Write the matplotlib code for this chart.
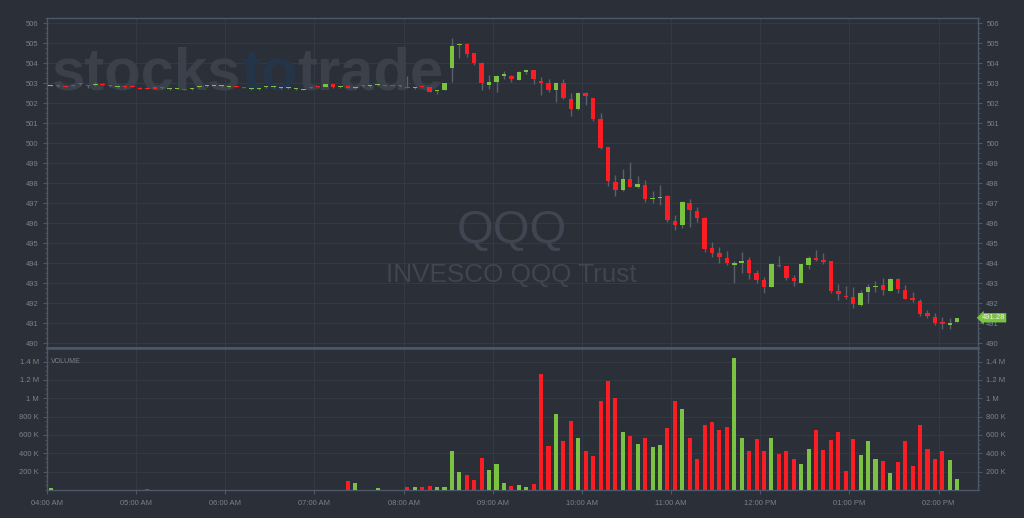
import matplotlib.pyplot as plt
import numpy as np
import matplotlib.transforms as mtransforms
from matplotlib.ticker import FuncFormatter, MultipleLocator, FixedLocator

# 5-minute bars, pre-market 04:00 - 08:25
pre_open = [502.86, 502.90, 502.85, 502.92, 502.99, 502.89, 502.90, 502.97, 502.89, 502.80,
            502.84, 502.85, 502.77, 502.78, 502.80, 502.79, 502.70, 502.73, 502.72, 502.71,
            502.80, 502.85, 502.88, 502.85, 502.80, 502.87, 502.82, 502.71, 502.71, 502.80,
            502.81, 502.76, 502.76, 502.70, 502.68, 502.82, 502.84, 502.83, 502.97, 502.81,
            502.88, 502.76, 502.89, 502.85, 502.90, 502.92, 502.90, 502.89, 502.82, 502.76,
            502.85, 502.80, 502.60, 502.67]
pre_high = [502.91, 502.93, 502.88, 502.95, 503.01, 502.92, 503.08, 503.00, 502.92, 502.85,
            502.86, 502.87, 502.80, 502.80, 502.82, 502.81, 502.75, 502.78, 502.74, 502.76,
            502.85, 502.90, 502.93, 502.90, 502.85, 502.89, 502.84, 502.76, 502.76, 502.85,
            502.86, 502.81, 502.81, 502.75, 502.73, 502.84, 502.86, 502.99, 502.99, 502.86,
            502.90, 502.81, 502.91, 502.90, 502.95, 502.94, 502.92, 502.91, 503.37, 502.81,
            502.87, 502.82, 502.65, 503.04]
pre_low = [502.85, 502.84, 502.80, 502.87, 502.94, 502.78, 502.88, 502.92, 502.84, 502.78,
           502.79, 502.80, 502.72, 502.72, 502.74, 502.74, 502.68, 502.71, 502.66, 502.69,
           502.78, 502.83, 502.86, 502.83, 502.78, 502.82, 502.77, 502.69, 502.69, 502.78,
           502.79, 502.74, 502.74, 502.68, 502.66, 502.77, 502.79, 502.81, 502.78, 502.79,
           502.76, 502.74, 502.84, 502.83, 502.88, 502.87, 502.85, 502.84, 502.77, 502.74,
           502.80, 502.55, 502.47, 502.65]
pre_close = [502.90, 502.86, 502.81, 502.88, 502.95, 502.85, 502.94, 502.93, 502.85, 502.84,
             502.80, 502.81, 502.73, 502.73, 502.74, 502.75, 502.74, 502.77, 502.68, 502.75,
             502.84, 502.89, 502.92, 502.89, 502.84, 502.83, 502.78, 502.75, 502.75, 502.84,
             502.85, 502.80, 502.80, 502.74, 502.72, 502.78, 502.80, 502.97, 502.80, 502.85,
             502.78, 502.80, 502.85, 502.89, 502.94, 502.88, 502.86, 502.85, 502.78, 502.80,
             502.81, 502.57, 502.63, 503.02]
pre_volume = [18e3, 0, 0, 0, 0, 0, 0, 0, 0, 0,
              0, 0, 0, 15e3, 0, 0, 0, 0, 0, 0,
              0, 0, 0, 0, 0, 0, 0, 0, 0, 0,
              0, 0, 0, 0, 0, 0, 0, 0, 0, 0,
              96e3, 74e3, 0, 0, 18e3, 0, 0, 0, 30e3, 33e3,
              30e3, 44e3, 33e3, 33e3]

# 5-minute bars 08:30 - 02:10 PM
day_open = [503.78, 504.90, 504.98, 504.50, 504.02, 502.93,
            503.05, 503.38, 503.38, 503.17, 503.57, 503.65, 503.12, 503.00, 502.65, 503.02, 502.22, 501.72,
            502.53, 502.25, 501.20, 499.80, 498.05, 497.67, 498.22, 497.80, 497.92, 497.20, 497.26, 497.37,
            496.12, 495.92, 497.00, 496.62, 496.28, 494.75, 494.50, 494.28, 493.93, 494.02, 494.17, 493.53,
            493.17, 492.83, 493.93, 493.85, 493.25, 493.03, 493.93, 494.25, 494.17, 494.10, 492.62, 492.36,
            492.34, 491.91, 492.56, 492.80, 492.92, 492.62, 493.23, 492.67, 492.27, 492.12, 491.50, 491.32,
            491.05, 490.90, 491.07]
day_high = [505.25, 505.00, 505.00, 504.52, 504.05, 503.42,
            503.40, 503.60, 503.40, 503.60, 503.68, 503.67, 503.32, 503.20, 503.05, 503.20, 502.50, 502.55,
            502.55, 502.27, 501.50, 499.82, 498.42, 498.72, 499.08, 498.38, 498.17, 497.62, 497.92, 497.40,
            496.42, 497.10, 497.20, 496.80, 496.30, 495.07, 494.80, 494.62, 494.13, 494.55, 494.33, 493.67,
            493.30, 494.00, 494.37, 493.87, 493.42, 493.98, 494.37, 494.67, 494.53, 494.12, 492.95, 492.86,
            492.80, 492.66, 492.99, 493.12, 493.29, 493.25, 493.28, 492.92, 492.58, 492.20, 491.68, 491.53,
            491.32, 491.28, 491.28]
day_low = [503.08, 504.25, 504.33, 503.93, 502.67, 502.72,
           502.58, 503.20, 503.07, 503.15, 503.48, 502.97, 502.43, 502.55, 502.08, 502.20, 501.37, 501.68,
           501.93, 501.10, 499.70, 497.87, 497.37, 497.62, 497.80, 497.78, 497.08, 497.03, 496.92, 496.05,
           495.67, 495.78, 495.83, 496.08, 494.55, 494.30, 494.00, 493.90, 493.03, 493.53, 493.22, 493.00,
           492.53, 492.80, 493.83, 493.17, 492.88, 493.00, 493.70, 494.13, 493.97, 492.53, 492.17, 492.22,
           491.77, 491.87, 492.00, 492.55, 492.40, 492.60, 492.50, 492.20, 492.08, 491.37, 491.25, 490.92,
           490.70, 490.73, 491.05]
day_close = [504.87, 504.97, 504.47, 504.00, 503.00, 503.07,
             503.37, 503.45, 503.23, 503.57, 503.67, 503.22, 503.02, 502.65, 503.02, 502.28, 501.70, 502.50,
             502.37, 501.22, 499.75, 498.12, 497.67, 498.22, 497.83, 497.97, 497.20, 497.23, 497.29, 496.17,
             495.92, 497.05, 496.67, 496.28, 494.72, 494.52, 494.33, 494.00, 494.03, 494.13, 493.53, 493.17,
             492.83, 493.97, 493.85, 493.25, 493.10, 493.95, 494.25, 494.18, 494.07, 492.60, 492.45, 492.31,
             491.96, 492.51, 492.82, 492.88, 492.67, 493.23, 492.70, 492.23, 492.17, 491.48, 491.35, 491.03,
             490.95, 491.02, 491.28]
day_volume = [422e3, 192e3, 159e3, 104e3, 352e3, 215e3,
              281e3, 73e3, 44e3, 55e3, 29e3, 65e3, 1262e3, 480e3, 829e3, 538e3, 756e3, 564e3,
              422e3, 367e3, 971e3, 1185e3, 1007e3, 633e3, 585e3, 498e3, 571e3, 469e3, 487e3, 673e3,
              971e3, 880e3, 564e3, 335e3, 713e3, 742e3, 655e3, 684e3, 1444e3, 571e3, 422e3, 556e3,
              425e3, 571e3, 393e3, 425e3, 335e3, 284e3, 447e3, 655e3, 436e3, 545e3, 633e3, 204e3,
              556e3, 382e3, 531e3, 342e3, 313e3, 189e3, 305e3, 538e3, 262e3, 713e3, 451e3, 342e3,
              422e3, 327e3, 124e3]

hour_labels = ['04:00 AM', '05:00 AM', '06:00 AM', '07:00 AM', '08:00 AM', '09:00 AM',
               '10:00 AM', '11:00 AM', '12:00 PM', '01:00 PM', '02:00 PM']
ticker = 'QQQ'
ticker_name = 'INVESCO QQQ Trust'

opens = np.array(pre_open + day_open)
highs = np.array(pre_high + day_high)
lows = np.array(pre_low + day_low)
closes = np.array(pre_close + day_close)
volume = np.array(pre_volume + day_volume)

bg = '#2a2f38'
grid_c = '#343a45'
spine_c = '#4d586b'
text_c = '#7b828c'
green = '#7cc242'
red = '#fa1e24'
wick_c = '#5a6069'

x = np.arange(len(opens)) + 0.5  # bar centres, in 5-minute units from 04:00
up = closes >= opens
colors = np.where(up, green, red)

fig = plt.figure(figsize=(10.24, 5.18), dpi=100, facecolor=bg)
W, H = 1024, 518
ax = fig.add_axes([47 / W, 1 - 348 / H, 931 / W, 329.7 / H])
axv = fig.add_axes([47 / W, 1 - 490 / H, 931 / W, 142 / H], sharex=ax)

for a in (ax, axv):
    a.set_facecolor(bg)
    for s in a.spines.values():
        s.set_color(spine_c)
        s.set_linewidth(1.0)
    a.grid(True, color=grid_c, linewidth=0.8)
    a.set_axisbelow(True)
    a.tick_params(axis='y', which='both', left=True, right=True, labelleft=True, labelright=True,
                  color=spine_c, labelcolor=text_c, labelsize=5.5, direction='out')
    a.tick_params(axis='y', which='major', length=3, pad=3)
    a.tick_params(axis='y', which='minor', length=1.5)
ax.spines['bottom'].set_linewidth(1.8)
axv.spines['top'].set_linewidth(1.8)

# candles
body = np.maximum(np.abs(closes - opens), 0.05)
ax.vlines(x, lows, highs, color=wick_c, linewidth=1, zorder=2)
ax.bar(x, body, bottom=np.minimum(opens, closes), width=0.6, color=colors, zorder=3)

ax.set_xlim(0, 125.3)
ax.set_ylim(489.77, 506.25)
ax.yaxis.set_major_locator(MultipleLocator(1))
ax.yaxis.set_minor_locator(MultipleLocator(0.25))
ax.yaxis.set_major_formatter(FuncFormatter(lambda v, p: f'{v:.0f}'))
ax.tick_params(axis='x', which='both', bottom=False, labelbottom=False)

# volume
axv.bar(x, volume, width=0.55, color=colors, zorder=3)
axv.set_ylim(0, 1.548e6)
axv.yaxis.set_major_locator(FixedLocator([2e5, 4e5, 6e5, 8e5, 1e6, 1.2e6, 1.4e6]))
axv.yaxis.set_minor_locator(MultipleLocator(5e4))


def vol_fmt(v, pos):
    if v >= 1e6:
        return f'{v / 1e6:.1f}'.rstrip('0').rstrip('.') + ' M'
    return f'{v / 1e3:.0f} K'


axv.yaxis.set_major_formatter(FuncFormatter(vol_fmt))
axv.set_xticks(np.arange(0, 121, 12))
axv.set_xticklabels(hour_labels, family='Liberation Sans')
axv.tick_params(axis='x', color=spine_c, labelcolor=text_c, labelsize=5.5, length=3, pad=4)
axv.text(0.004, 0.93, 'VOLUME', transform=axv.transAxes, fontsize=5, color=text_c,
         family='Liberation Sans', va='top')
for lab in axv.get_yticklabels() + ax.get_yticklabels():
    lab.set_family('Liberation Sans')

# last price tag
trans = mtransforms.blended_transform_factory(ax.transAxes, ax.transData)
ax.text(1.004, closes[-1], f'{closes[-1]:.2f}', transform=trans, ha='left', va='center',
        fontsize=5.5, color='#eaf5e0', family='Liberation Sans', clip_on=False, zorder=5,
        bbox=dict(boxstyle='larrow,pad=0.15', fc=green, ec='none'))

# watermark
r = fig.canvas.get_renderer()
wm_y = 1 - 90 / H
xx = 52 / W
for part, col in [('stocks', '#3b414b'), ('to', '#24354a'), ('trade', '#3b414b')]:
    t = ax.text(xx, wm_y, part, transform=fig.transFigure, fontsize=43, fontweight='bold',
                family='Liberation Sans', color=col, va='baseline', ha='left', zorder=1)
    xx = t.get_window_extent(r).x1 / W
ax.text(512 / W, 1 - 243 / H, ticker, transform=fig.transFigure, fontsize=34, color='#3f4651',
        family='Liberation Sans', ha='center', va='baseline', zorder=1)
ax.text(511 / W, 1 - 281.7 / H, ticker_name, transform=fig.transFigure, fontsize=18.8,
        color='#3f4651', family='Liberation Sans', ha='center', va='baseline', zorder=1)

fig.savefig('out.png', dpi=100, facecolor=bg)
